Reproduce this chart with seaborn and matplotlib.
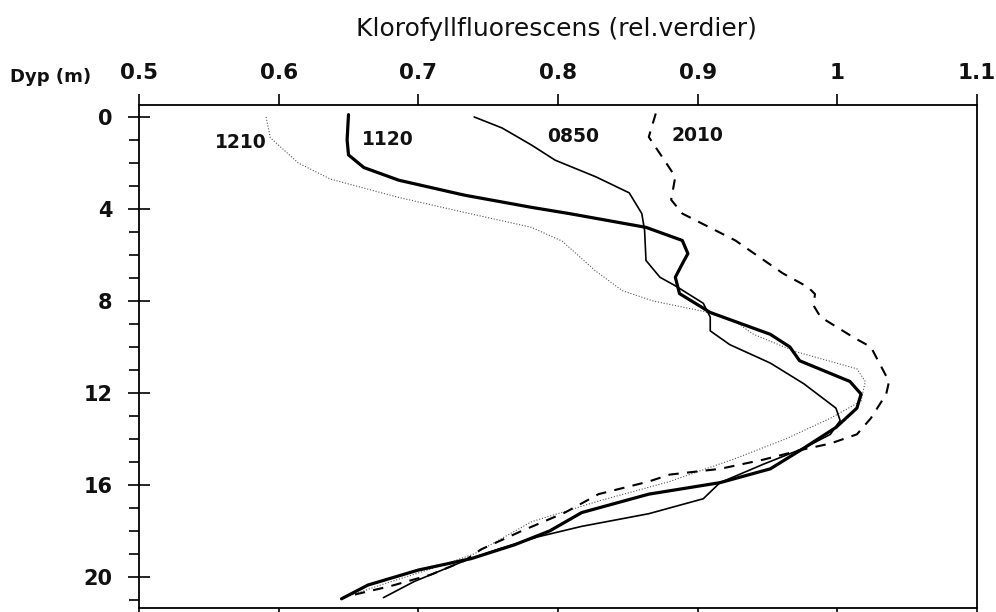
import matplotlib
matplotlib.use("Agg")
import matplotlib.pyplot as plt
from matplotlib.ticker import MultipleLocator, FixedLocator
import seaborn as sns
import pandas as pd

# ---- data (depth in m, relative fluorescence) ----
depth_1210 = [0, 0.9, 2.0, 2.7, 3.5, 4.15, 4.8, 5.4, 6.7, 7.55, 8.0, 8.45, 8.9, 9.45, 10.2,
              10.95, 11.5, 12.35, 13.1, 14.0, 14.85, 15.85, 16.7, 17.6, 19.0, 19.65, 20.35, 20.9]
fluor_1210 = [0.591, 0.594, 0.614, 0.637, 0.686, 0.733, 0.781, 0.803, 0.827, 0.846, 0.868, 0.904,
              0.927, 0.940, 0.970, 1.014, 1.020, 1.017, 0.995, 0.963, 0.927, 0.880, 0.829, 0.781,
              0.740, 0.709, 0.673, 0.647]

depth_1120 = [-0.1, 1.0, 1.65, 2.2, 2.75, 3.4, 3.93, 4.2, 4.8, 5.37, 5.94, 6.5, 6.97, 7.68, 8.5,
              9.45, 10.0, 10.6, 11.5, 12.05, 12.66, 13.5, 14.4, 15.3, 15.9, 16.4, 17.2, 18.0,
              18.6, 19.2, 19.7, 20.35, 20.95]
fluor_1120 = [0.650, 0.649, 0.650, 0.661, 0.686, 0.733, 0.781, 0.808, 0.863, 0.889, 0.893, 0.888,
              0.884, 0.887, 0.909, 0.952, 0.966, 0.973, 1.009, 1.017, 1.014, 0.999, 0.976, 0.952,
              0.916, 0.865, 0.817, 0.794, 0.769, 0.738, 0.700, 0.664, 0.645]

depth_0850 = [0, 0.48, 1.22, 1.88, 2.6, 3.3, 4.2, 4.93, 6.24, 6.97, 7.34, 8.1, 8.7, 9.3, 9.9,
              10.7, 11.6, 12.66, 13.2, 13.8, 14.4, 15.1, 15.9, 16.6, 17.25, 17.8, 18.25, 18.8,
              19.3, 20.2, 20.9]
fluor_0850 = [0.740, 0.760, 0.781, 0.798, 0.827, 0.851, 0.860, 0.862, 0.863, 0.873, 0.884, 0.904,
              0.909, 0.909, 0.923, 0.952, 0.976, 0.999, 1.002, 0.995, 0.976, 0.947, 0.916, 0.904,
              0.865, 0.817, 0.786, 0.757, 0.733, 0.697, 0.675]

depth_2010 = [-0.15, 0.87, 1.96, 2.6, 3.6, 4.2, 5.37, 6.8, 7.4, 7.7, 8.2, 8.7, 9.6, 10.0, 11.5,
              12.05, 13.1, 13.8, 14.2, 14.45, 14.9, 15.3, 15.55, 15.85, 16.4, 17.2, 18.0, 18.8,
              19.3, 19.9, 20.4, 20.8]
fluor_2010 = [0.870, 0.865, 0.877, 0.884, 0.881, 0.889, 0.927, 0.961, 0.979, 0.984, 0.983, 0.988,
              1.012, 1.024, 1.037, 1.035, 1.024, 1.014, 0.995, 0.976, 0.947, 0.916, 0.880, 0.865,
              0.829, 0.805, 0.774, 0.745, 0.733, 0.709, 0.680, 0.652]

series_names = ["1210", "1120", "0850", "2010"]
label_x = [0.573, 0.678, 0.811, 0.900]
label_depth = [1.1, 1.0, 0.85, 0.8]

x_ticks = [0.5, 0.6, 0.7, 0.8, 0.9, 1.0, 1.1]
x_tick_labels = ["0.5", "0.6", "0.7", "0.8", "0.9", "1", "1.1"]
y_ticks = [0, 4, 8, 12, 16, 20]
y_tick_labels = ["0", "4", "8", "12", "16", "20"]

title = "Klorofyllfluorescens (rel.verdier)"
depth_label = "Dyp (m)"

# ---- style ----
sns.set_style("white")
plt.rcParams["font.family"] = ["DejaVu Sans"]

fig = plt.figure(figsize=(9.96, 6.12), dpi=100)
ax = fig.add_axes([139 / 996, 1 - 608 / 612, (977 - 139) / 996, (608 - 105) / 612])

styles = {
    "1210": dict(lw=0.8, ls=(0, (1, 1.6)), color="#555555"),
    "1120": dict(lw=2.3, ls="-", color="black"),
    "0850": dict(lw=1.2, ls="-", color="black"),
    "2010": dict(lw=1.5, ls=(0, (5, 4)), color="black"),
}
data = {
    "1210": (fluor_1210, depth_1210),
    "1120": (fluor_1120, depth_1120),
    "0850": (fluor_0850, depth_0850),
    "2010": (fluor_2010, depth_2010),
}
for name in series_names:
    xs, ds = data[name]
    df = pd.DataFrame({"x": xs, "d": ds})
    st = styles[name]
    sns.lineplot(data=df, x="x", y="d", sort=False, estimator=None, orient="y", ax=ax,
                 color=st["color"], linewidth=st["lw"], linestyle=st["ls"], legend=False)

for name, lx, ld in zip(series_names, label_x, label_depth):
    ax.text(lx, ld, name, ha="center", va="center", fontsize=13.5, fontweight="bold",
            color="#111111")

ax.set_xlim(0.5, 1.1)
ax.set_ylim(21.35, -0.52)
ax.set_xlabel("")
ax.set_ylabel("")

for sp in ax.spines.values():
    sp.set_visible(True)
    sp.set_color("black")
    sp.set_linewidth(1.3)

ax.xaxis.set_major_locator(FixedLocator(x_ticks))
ax.set_xticklabels(x_tick_labels)
ax.tick_params(axis="x", which="major", top=True, bottom=True, labeltop=True, labelbottom=False,
               direction="out", length=8, width=1.2, pad=8, labelsize=15.5, color="black",
               labelcolor="#111111")
for lbl in ax.get_xticklabels():
    lbl.set_fontweight("bold")

ax.yaxis.set_major_locator(FixedLocator(y_ticks))
ax.set_yticklabels(y_tick_labels)
ax.yaxis.set_minor_locator(MultipleLocator(1))
ax.tick_params(axis="y", which="major", left=True, right=False, direction="inout",
               length=16, width=1.2, pad=11, labelsize=15, color="black", labelcolor="#111111")
ax.tick_params(axis="y", which="minor", left=True, right=False, direction="out",
               length=7, width=1.2, color="black")
for lbl in ax.get_yticklabels():
    lbl.set_fontweight("bold")

fig.text(556 / 996, 1 - 36 / 612, title, ha="center", va="baseline", fontsize=18,
         color="#111111")
fig.text(10 / 996, 1 - 82 / 612, depth_label, ha="left", va="baseline", fontsize=13,
         fontweight="bold", color="#111111")

fig.savefig("out.png", dpi=100)
